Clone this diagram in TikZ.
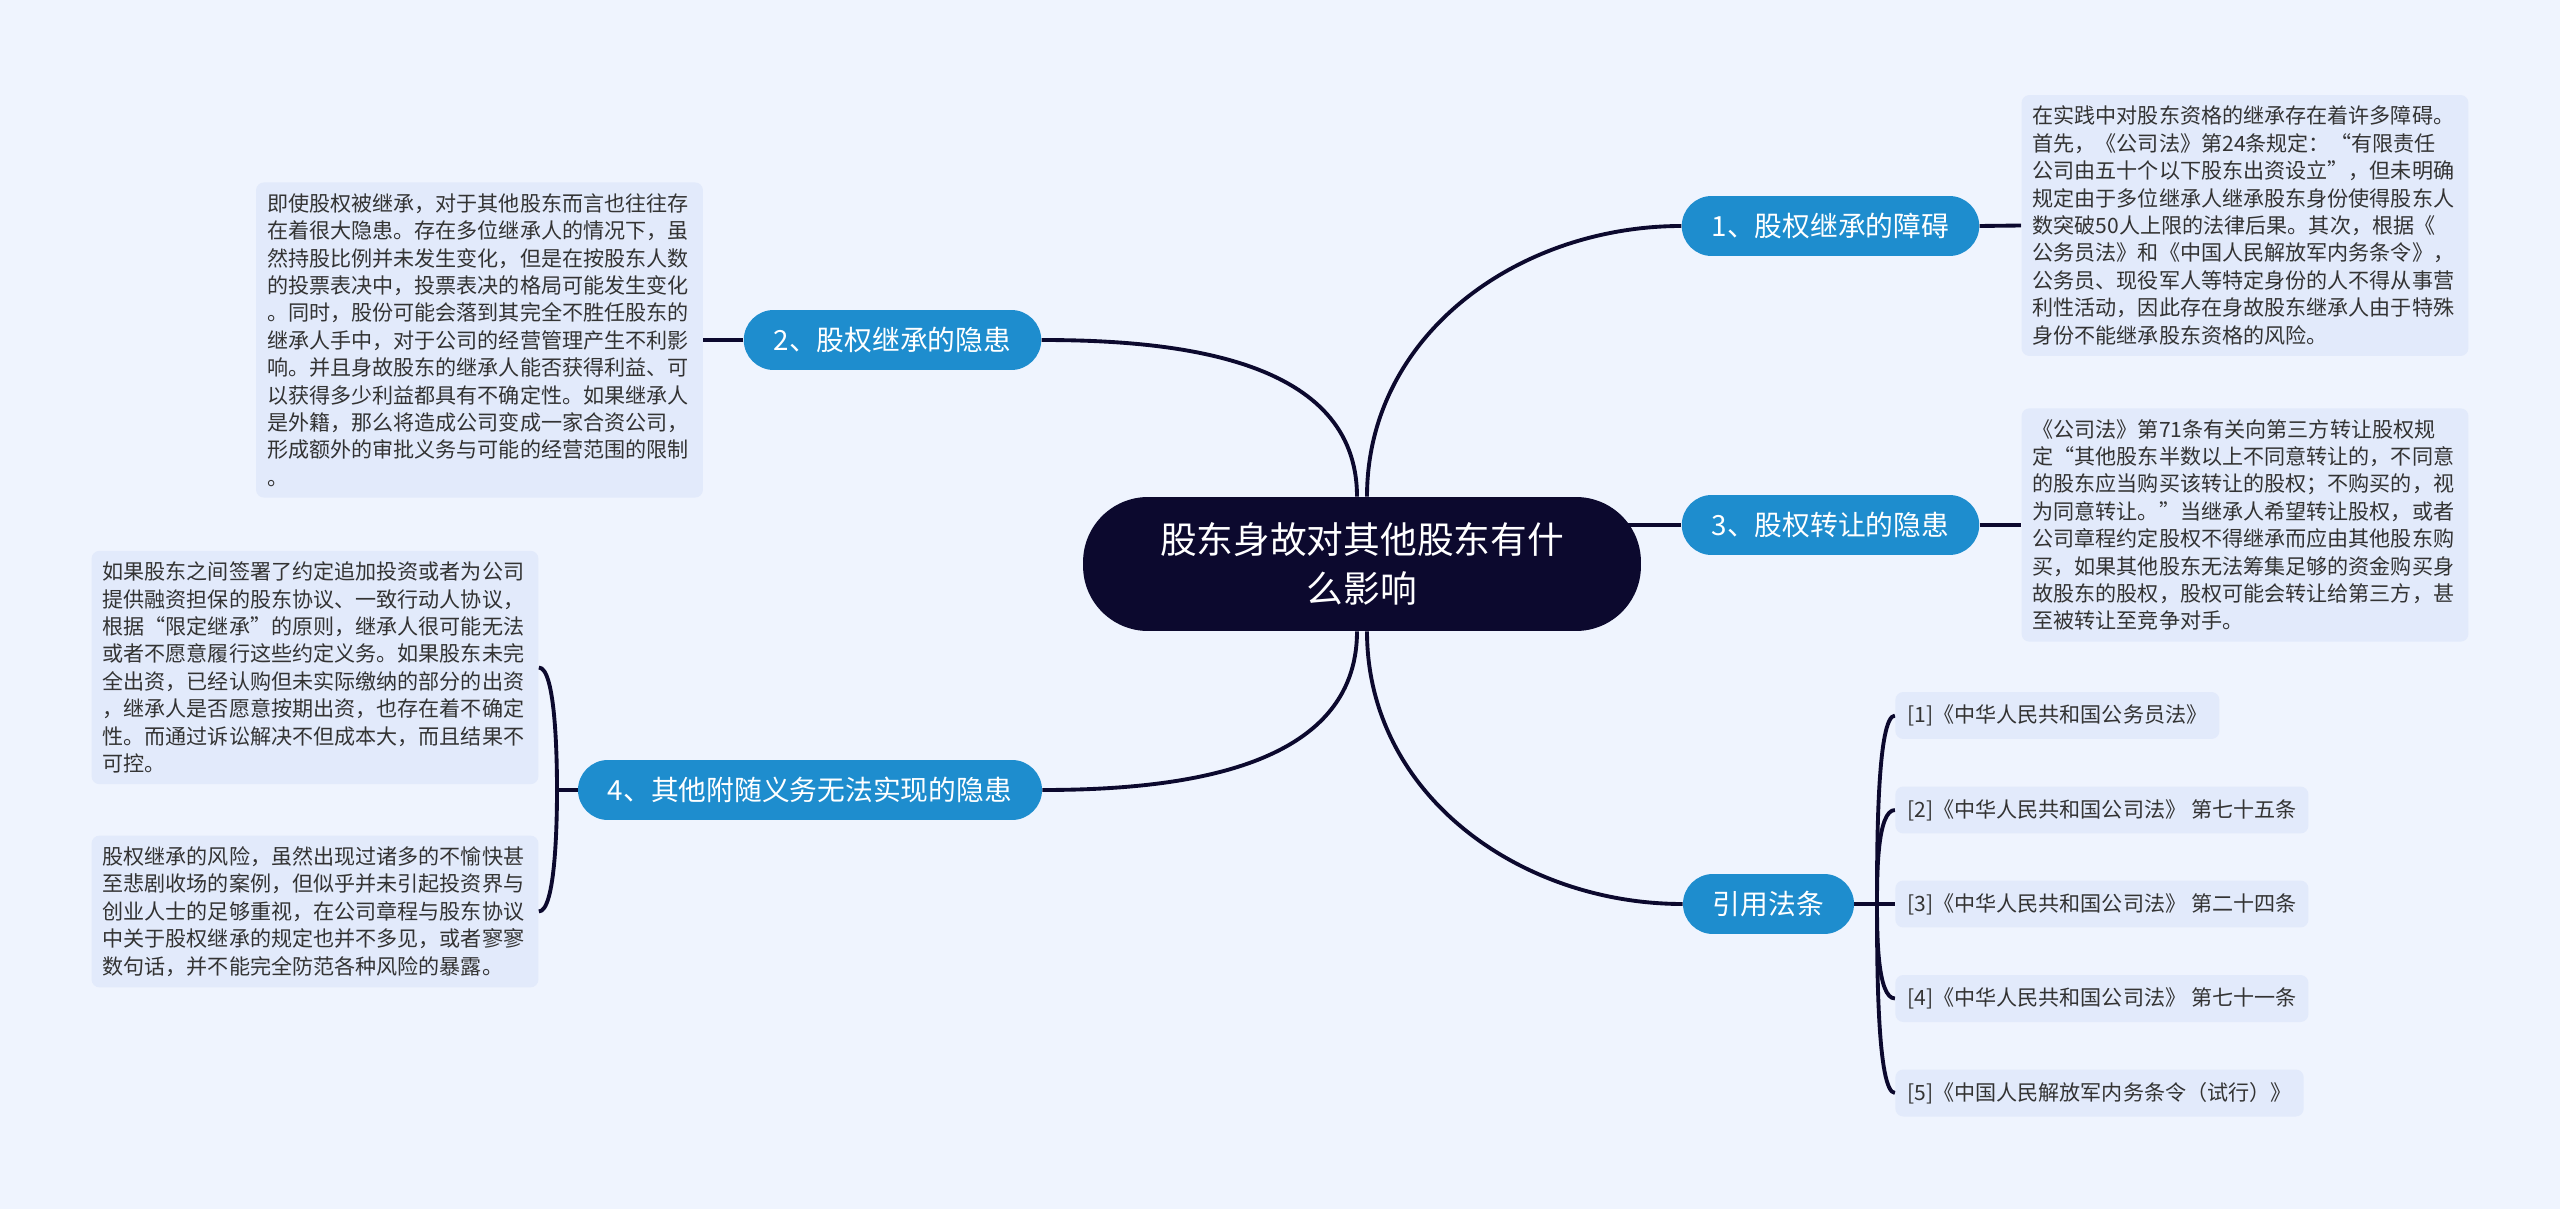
\documentclass[tikz,border=0pt]{standalone}
\usepackage{fontspec}
\setmainfont{Noto Sans CJK SC}
\usetikzlibrary{backgrounds}
\definecolor{pagebg}{RGB}{239,244,254}
\definecolor{notebg}{RGB}{226,234,251}
\definecolor{topicbg}{RGB}{30,141,206}
\definecolor{rootbg}{RGB}{12,9,46}
\definecolor{linkcol}{RGB}{12,9,46}
\definecolor{notetext}{RGB}{51,51,51}
\tikzset{
    root/.style={fill=rootbg, text=white, rounded corners=1.3cm, minimum width=11.16cm,
        minimum height=2.68cm, align=center, font=\fontsize{20.9pt}{27.9pt}\selectfont},
    topic/.style={fill=topicbg, text=white, rounded corners=0.6cm, minimum height=1.2cm,
        inner xsep=0.6cm, font=\fontsize{15.8pt}{18pt}\selectfont},
    note/.style={fill=notebg, text=notetext, rounded corners=0.16cm, text width=8.5cm,
        align=left, inner xsep=0.22cm, inner ysep=0.22cm, font=\fontsize{12pt}{15.6pt}\selectfont},
    lawitem/.style={fill=notebg, text=notetext, rounded corners=0.16cm, minimum height=0.94cm,
        inner xsep=0.24cm, anchor=west, font=\fontsize{12pt}{15.6pt}\selectfont},
    link/.style={draw=linkcol, line width=2.2pt}
}
\begin{document}
\begin{tikzpicture}[x=0.02cm,y=-0.02cm]
        \begin{scope}[on background layer]
        \fill[pagebg] (0,0) rectangle (2560,1209);
        \end{scope}
        \useasboundingbox (0,0) rectangle (2560,1209);
        \node[root] (root) at (1362,564) {股东身故对其他股东有什\\么影响};
        \node[topic] (t1) at (1830.5,226) {1、股权继承的障碍};
        \node[topic] (t2) at (892.5,340) {2、股权继承的隐患};
        \node[topic] (t3) at (1830.5,525) {3、股权转让的隐患};
        \node[topic] (t4) at (810,790) {4、其他附随义务无法实现的隐患};
        \node[topic] (law) at (1768.5,904) {引用法条};
        \node[note] (n1) at (2245,225.5) {在实践中对股东资格的继承存在着许多障碍。\\首先，《公司法》第24条规定：“有限责任\\公司由五十个以下股东出资设立”，但未明确\\规定由于多位继承人继承股东身份使得股东人\\数突破50人上限的法律后果。其次，根据《\\公务员法》和《中国人民解放军内务条令》，\\公务员、现役军人等特定身份的人不得从事营\\利性活动，因此存在身故股东继承人由于特殊\\身份不能继承股东资格的风险。};
        \node[note] (n2) at (479.5,340) {即使股权被继承，对于其他股东而言也往往存\\在着很大隐患。存在多位继承人的情况下，虽\\然持股比例并未发生变化，但是在按股东人数\\的投票表决中，投票表决的格局可能发生变化\\。同时，股份可能会落到其完全不胜任股东的\\继承人手中，对于公司的经营管理产生不利影\\响。并且身故股东的继承人能否获得利益、可\\以获得多少利益都具有不确定性。如果继承人\\是外籍，那么将造成公司变成一家合资公司，\\形成额外的审批义务与可能的经营范围的限制\\。};
        \node[note] (n3) at (2245,525) {《公司法》第71条有关向第三方转让股权规\\定“其他股东半数以上不同意转让的，不同意\\的股东应当购买该转让的股权；不购买的，视\\为同意转让。”当继承人希望转让股权，或者\\公司章程约定股权不得继承而应由其他股东购\\买，如果其他股东无法筹集足够的资金购买身\\故股东的股权，股权可能会转让给第三方，甚\\至被转让至竞争对手。};
        \node[note] (n4a) at (315,667.5) {如果股东之间签署了约定追加投资或者为公司\\提供融资担保的股东协议、一致行动人协议，\\根据“限定继承”的原则，继承人很可能无法\\或者不愿意履行这些约定义务。如果股东未完\\全出资，已经认购但未实际缴纳的部分的出资\\，继承人是否愿意按期出资，也存在着不确定\\性。而通过诉讼解决不但成本大，而且结果不\\可控。};
        \node[note] (n4b) at (315,911.5) {股权继承的风险，虽然出现过诸多的不愉快甚\\至悲剧收场的案例，但似乎并未引起投资界与\\创业人士的足够重视，在公司章程与股东协议\\中关于股权继承的规定也并不多见，或者寥寥\\数句话，并不能完全防范各种风险的暴露。};
        \node[lawitem] (r1) at (1895,715.5) {[1]《中华人民共和国公务员法》};
        \node[lawitem] (r2) at (1895,810) {[2]《中华人民共和国公司法》 第七十五条};
        \node[lawitem] (r3) at (1895,904) {[3]《中华人民共和国公司法》 第二十四条};
        \node[lawitem] (r4) at (1895,998.5) {[4]《中华人民共和国公司法》 第七十一条};
        \node[lawitem] (r5) at (1895,1093) {[5]《中国人民解放军内务条令（试行）》};
        \coordinate (j4) at (557,790);
        \coordinate (jlaw) at (1877,904);
        \begin{scope}[on background layer]
        \draw[link] ([xshift=0.1cm]root.north) to[out=90,in=180] (t1.west);
        \draw[link] ([xshift=-0.1cm]root.north) to[out=90,in=0] (t2.east);
        \draw[link] (root |- t3) -- (t3.west);
        \draw[link] ([xshift=-0.1cm]root.south) to[out=-90,in=0] (t4.east);
        \draw[link] ([xshift=0.1cm]root.south) to[out=-90,in=180] (law.west);
        \draw[link] (t1.east) -- (n1.west);
        \draw[link] (t2.west) -- (n2.east);
        \draw[link] (t3.east) -- (n3.west);
        \draw[link] (t4.west) -- (j4);
        \draw[link] (j4) .. controls +(0,-30) and +(17,0) .. (n4a.east);
        \draw[link] (j4) .. controls +(0,30) and +(17,0) .. (n4b.east);
        \draw[link] (law.east) -- (r3.west);
        \draw[link] (jlaw) .. controls +(0,-57) and +(-18,0) .. (r1.west);
        \draw[link] (jlaw) .. controls +(0,-28) and +(-18,0) .. (r2.west);
        \draw[link] (jlaw) .. controls +(0,28) and +(-18,0) .. (r4.west);
        \draw[link] (jlaw) .. controls +(0,57) and +(-18,0) .. (r5.west);
        \end{scope}
\end{tikzpicture}
\end{document}
